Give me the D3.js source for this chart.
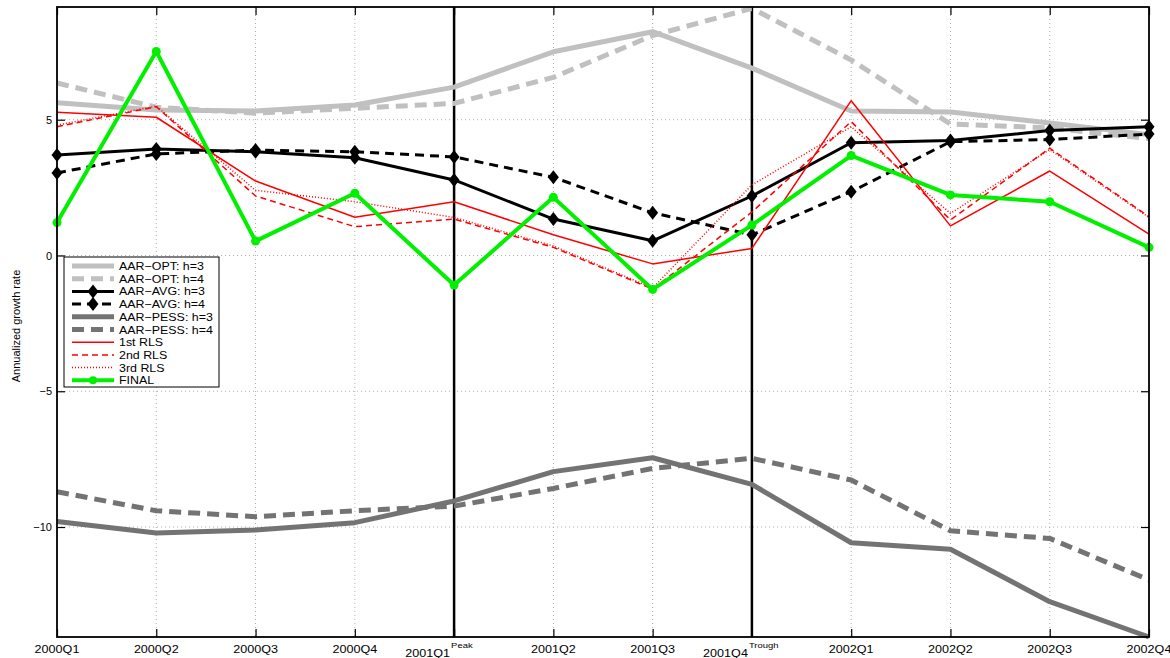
<!DOCTYPE html>
<html>
<head>
<meta charset="utf-8">
<script src="https://cdn.jsdelivr.net/npm/d3@7"></script>
<style>
  body { margin: 0; background: #fff; }
  svg { font-family: "Liberation Sans", Arial, Helvetica, sans-serif; }
</style>
</head>
<body>
<svg id="chart" width="1170" height="658"></svg>
<script>
// quarters and labels
const quarters = ["2000Q1","2000Q2","2000Q3","2000Q4","2001Q1","2001Q2","2001Q3","2001Q4","2002Q1","2002Q2","2002Q3","2002Q4"];
const tickSup = ["","","","","Peak","","","Trough","","","",""];
const eventQuarters = ["2001Q1","2001Q4"];
const yTicks = [-10, -5, 0, 5];

// series (annualized growth rate)
const optH3  = [5.62, 5.36, 5.32, 5.54, 6.20, 7.50, 8.24, 6.90, 5.32, 5.28, 4.88, 4.45];
const optH4  = [6.35, 5.46, 5.24, 5.42, 5.60, 6.56, 8.10, 9.10, 7.20, 4.84, 4.70, 4.30];
const avgH3  = [3.70, 3.92, 3.82, 3.60, 2.78, 1.34, 0.54, 2.19, 4.15, 4.23, 4.60, 4.74];
const avgH4  = [3.04, 3.74, 3.88, 3.82, 3.63, 2.88, 1.57, 0.76, 2.35, 4.19, 4.27, 4.47];
const pessH3 = [-9.80, -10.22, -10.11, -9.84, -9.04, -7.96, -7.45, -8.43, -10.58, -10.82, -12.75, -14.05];
const pessH4 = [-8.70, -9.40, -9.62, -9.40, -9.23, -8.58, -7.84, -7.47, -8.27, -10.14, -10.42, -11.95];
const rls1   = [5.27, 5.09, 2.74, 1.41, 1.98, 0.76, -0.31, 0.26, 5.70, 1.09, 3.11, 0.79];
const rls2   = [4.74, 5.48, 2.19, 1.06, 1.34, 0.30, -1.24, 1.60, 4.93, 1.31, 3.95, 1.43];
const rls3   = [4.80, 5.50, 2.40, 1.98, 1.40, 0.35, -1.20, 2.60, 4.74, 1.55, 3.90, 1.40];
const finalRate = [1.21, 7.51, 0.53, 2.29, -1.09, 2.14, -1.25, 1.12, 3.68, 2.23, 1.98, 0.30];

const series = [
  {name: "AAR\u2212OPT: h=3",  values: optH3,  color: "#c0c0c0", width: 5,   dash: null},
  {name: "AAR\u2212OPT: h=4",  values: optH4,  color: "#c0c0c0", width: 5,   dash: "12,7"},
  {name: "AAR\u2212AVG: h=3",  values: avgH3,  color: "#000",    width: 3,   dash: null,  marker: "diamond"},
  {name: "AAR\u2212AVG: h=4",  values: avgH4,  color: "#000",    width: 3,   dash: "9,6", marker: "diamond"},
  {name: "AAR\u2212PESS: h=3", values: pessH3, color: "#737373", width: 5,   dash: null},
  {name: "AAR\u2212PESS: h=4", values: pessH4, color: "#737373", width: 5,   dash: "12,7"},
  {name: "1st RLS",            values: rls1,   color: "#ff0000", width: 1.5, dash: null},
  {name: "2nd RLS",            values: rls2,   color: "#ff0000", width: 1.5, dash: "6,4"},
  {name: "3rd RLS",            values: rls3,   color: "#ff0000", width: 1.5, dash: "1,2"},
  {name: "FINAL",              values: finalRate, color: "#00f000", width: 4, dash: null, marker: "dot"}
];

const svg = d3.select("#chart");
const mLeft = 57, mRight = 1149, mTop = 7, mBottom = 637;

const x = d3.scalePoint().domain(quarters).range([mLeft, mRight]);
const y = d3.scaleLinear().domain([-14.05, 9.15]).range([mBottom, mTop]);

const diamond = "M0,-7L5.5,0L0,7L-5.5,0Z";

// grid
const grid = svg.append("g").attr("stroke", "#999").attr("stroke-width", 0.8).attr("stroke-dasharray", "1,3");
grid.selectAll(".gx").data(quarters.filter(q => !eventQuarters.includes(q)))
  .enter().append("line")
  .attr("x1", d => x(d)).attr("x2", d => x(d))
  .attr("y1", mTop).attr("y2", mBottom);
grid.selectAll(".gy").data(yTicks)
  .enter().append("line")
  .attr("x1", mLeft).attr("x2", mRight)
  .attr("y1", d => y(d)).attr("y2", d => y(d));

// peak / trough lines
svg.append("g").selectAll("line").data(eventQuarters)
  .enter().append("line")
  .attr("x1", d => x(d)).attr("x2", d => x(d))
  .attr("y1", mTop).attr("y2", mBottom)
  .attr("stroke", "#000").attr("stroke-width", 2.5);

// series
const line = d3.line().x((d, i) => x(quarters[i])).y(d => y(d));
const plot = svg.append("g");
series.forEach(s => {
  plot.append("path")
    .datum(s.values)
    .attr("d", line)
    .attr("fill", "none")
    .attr("stroke", s.color)
    .attr("stroke-width", s.width)
    .attr("stroke-dasharray", s.dash)
    .attr("stroke-linejoin", "round");
  if (s.marker == "diamond") {
    plot.append("g").selectAll("path").data(s.values)
      .enter().append("path")
      .attr("d", diamond)
      .attr("transform", (d, i) => "translate(" + x(quarters[i]) + "," + y(d) + ")")
      .attr("fill", "#000");
  } else if (s.marker == "dot") {
    plot.append("g").selectAll("circle").data(s.values)
      .enter().append("circle")
      .attr("cx", (d, i) => x(quarters[i]))
      .attr("cy", d => y(d))
      .attr("r", 4.5)
      .attr("fill", s.color);
  }
});

// axes (ticks inward)
svg.append("g")
  .attr("transform", "translate(0," + mBottom + ")")
  .call(d3.axisBottom(x).tickSizeInner(-8).tickSizeOuter(0).tickFormat(""));
svg.append("g")
  .attr("transform", "translate(0," + mTop + ")")
  .call(d3.axisTop(x).tickSizeInner(-8).tickSizeOuter(0).tickFormat(""));
svg.append("g")
  .attr("transform", "translate(" + mLeft + ",0)")
  .call(d3.axisLeft(y).tickValues(yTicks).tickSizeInner(-8).tickSizeOuter(0).tickPadding(5))
  .selectAll("text").style("font-size", "11px").attr("fill", "#000");
svg.append("g")
  .attr("transform", "translate(" + mRight + ",0)")
  .call(d3.axisRight(y).tickValues(yTicks).tickSizeInner(-8).tickSizeOuter(0).tickFormat(""));
svg.selectAll(".domain").remove();
svg.selectAll(".tick line").attr("stroke", "#000").attr("stroke-width", 1.2);

// x labels (text is a bit stretched sideways in the original)
const xl = svg.append("g").style("font-size", "10px");
quarters.forEach((q, i) => {
  if (tickSup[i]) {
    xl.append("text")
      .attr("transform", "translate(" + (x(q) - 4) + ",657) scale(1.26,1)")
      .attr("text-anchor", "end").text(q);
    xl.append("text")
      .attr("transform", "translate(" + (x(q) - 3) + ",648) scale(1.26,1)")
      .style("font-size", "7.5px").text(tickSup[i]);
  } else {
    xl.append("text")
      .attr("transform", "translate(" + x(q) + ",653) scale(1.26,1)")
      .attr("text-anchor", "middle").text(q);
  }
});

// frame
svg.append("rect")
  .attr("x", mLeft).attr("y", mTop)
  .attr("width", mRight - mLeft).attr("height", mBottom - mTop)
  .attr("fill", "none").attr("stroke", "#000").attr("stroke-width", 1.8);

// y label
svg.append("text")
  .attr("transform", "translate(20," + 326 + ") rotate(-90)")
  .attr("text-anchor", "middle")
  .style("font-size", "11px")
  .text("Annualized growth rate");

// legend
const lg = svg.append("g");
lg.append("rect")
  .attr("x", 64).attr("y", 257).attr("width", 155).attr("height", 130)
  .attr("fill", "#fff").attr("stroke", "#000").attr("stroke-width", 1);
series.forEach((s, i) => {
  let ly = 266 + i * 12.7;
  lg.append("line")
    .attr("x1", 72).attr("x2", 114).attr("y1", ly).attr("y2", ly)
    .attr("stroke", s.color).attr("stroke-width", s.width)
    .attr("stroke-dasharray", s.dash);
  if (s.marker == "diamond") {
    lg.append("path").attr("d", diamond).attr("transform", "translate(93," + ly + ")").attr("fill", "#000");
  } else if (s.marker == "dot") {
    lg.append("circle").attr("cx", 93).attr("cy", ly).attr("r", 4).attr("fill", s.color);
  }
  lg.append("text")
    .attr("transform", "translate(119," + (ly + 4) + ") scale(1.13,1)")
    .style("font-size", "11px")
    .text(s.name);
});
</script>
</body>
</html>
